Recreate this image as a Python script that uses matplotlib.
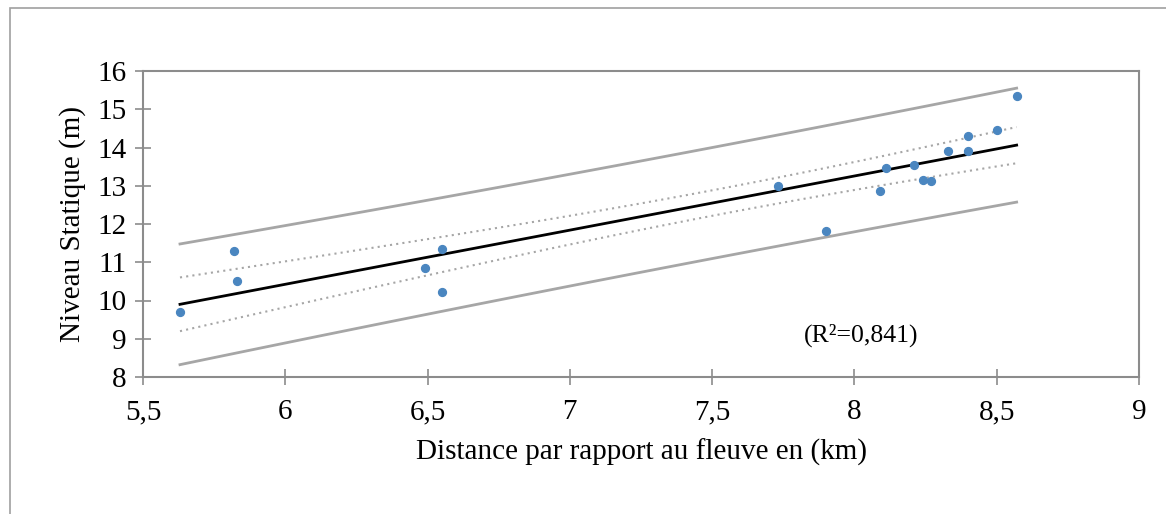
import numpy as np
import matplotlib.pyplot as plt
from matplotlib.patches import Rectangle

# distance au fleuve (km) et niveau statique (m)
distance = [5.63, 5.82, 5.83, 6.49, 6.55, 6.55, 7.73, 7.90, 8.09, 8.11,
            8.21, 8.24, 8.27, 8.33, 8.40, 8.40, 8.50, 8.57]
niveau = [9.70, 11.30, 10.52, 10.84, 11.34, 10.21, 12.99, 11.82, 12.85, 13.46,
          13.54, 13.15, 13.12, 13.90, 14.29, 13.90, 14.45, 15.35]
xticks = [5.5, 6, 6.5, 7, 7.5, 8, 8.5, 9]
yticks = [8, 9, 10, 11, 12, 13, 14, 15, 16]

plt.rcParams['font.family'] = ['Liberation Serif', 'DejaVu Serif']

x = np.array(distance)
y = np.array(niveau)
n = len(x)
slope, intercept = np.polyfit(x, y, 1)
resid = y - (slope * x + intercept)
s = np.sqrt(np.sum(resid ** 2) / (n - 2))
t = 2.12  # t(0.975, 16)
xs = np.linspace(x.min(), x.max(), 100)
fit = slope * xs + intercept
sxx = np.sum((x - x.mean()) ** 2)
ci = t * s * np.sqrt(1 / n + (xs - x.mean()) ** 2 / sxx)
pi = t * s * np.sqrt(1 + 1 / n + (xs - x.mean()) ** 2 / sxx)

fig = plt.figure(figsize=(11.66, 5.14), dpi=100)
fig.patches.append(Rectangle((10 / 1166, -0.1), 1.2, 1 - 8 / 514 + 0.1,
                             transform=fig.transFigure, fill=False,
                             edgecolor='#a0a0a0', linewidth=1.2))
ax = fig.add_axes([143 / 1166, 1 - 377 / 514, (1139 - 143) / 1166, (377 - 71) / 514])

ax.plot(xs, fit + pi, color='#a6a6a6', lw=2)
ax.plot(xs, fit - pi, color='#a6a6a6', lw=2)
ax.plot(xs, fit + ci, color='#a6a6a6', lw=1.5, ls=(0, (1, 2)))
ax.plot(xs, fit - ci, color='#a6a6a6', lw=1.5, ls=(0, (1, 2)))
ax.plot(xs, fit, color='black', lw=2)
ax.scatter(x, y, s=32, color='#4a86c0', zorder=5)

ax.set_xlim(5.5, 9)
ax.set_ylim(8, 16)
ax.set_xticks(xticks)
ax.set_yticks(yticks)
ax.set_xticklabels([f"{v:g}".replace('.', ',') for v in xticks])
ax.set_yticklabels([str(v) for v in yticks])
ax.tick_params(direction='inout', length=12, width=1.2, color='#8c8c8c',
               labelsize=21)
ax.tick_params(axis='x', pad=10)
ax.tick_params(axis='y', pad=6)
for sp in ax.spines.values():
    sp.set_color('#8c8c8c')
    sp.set_linewidth(1.5)

ax.set_xlabel("Distance par rapport au fleuve en (km)", fontsize=21, labelpad=10)
ax.set_ylabel("Niveau Statique (m)", fontsize=21, labelpad=8)
ax.text(8.025, 9.1, "(R²=0,841)", fontsize=18.5, ha='center', va='center')

fig.savefig("out.png", dpi=100)
